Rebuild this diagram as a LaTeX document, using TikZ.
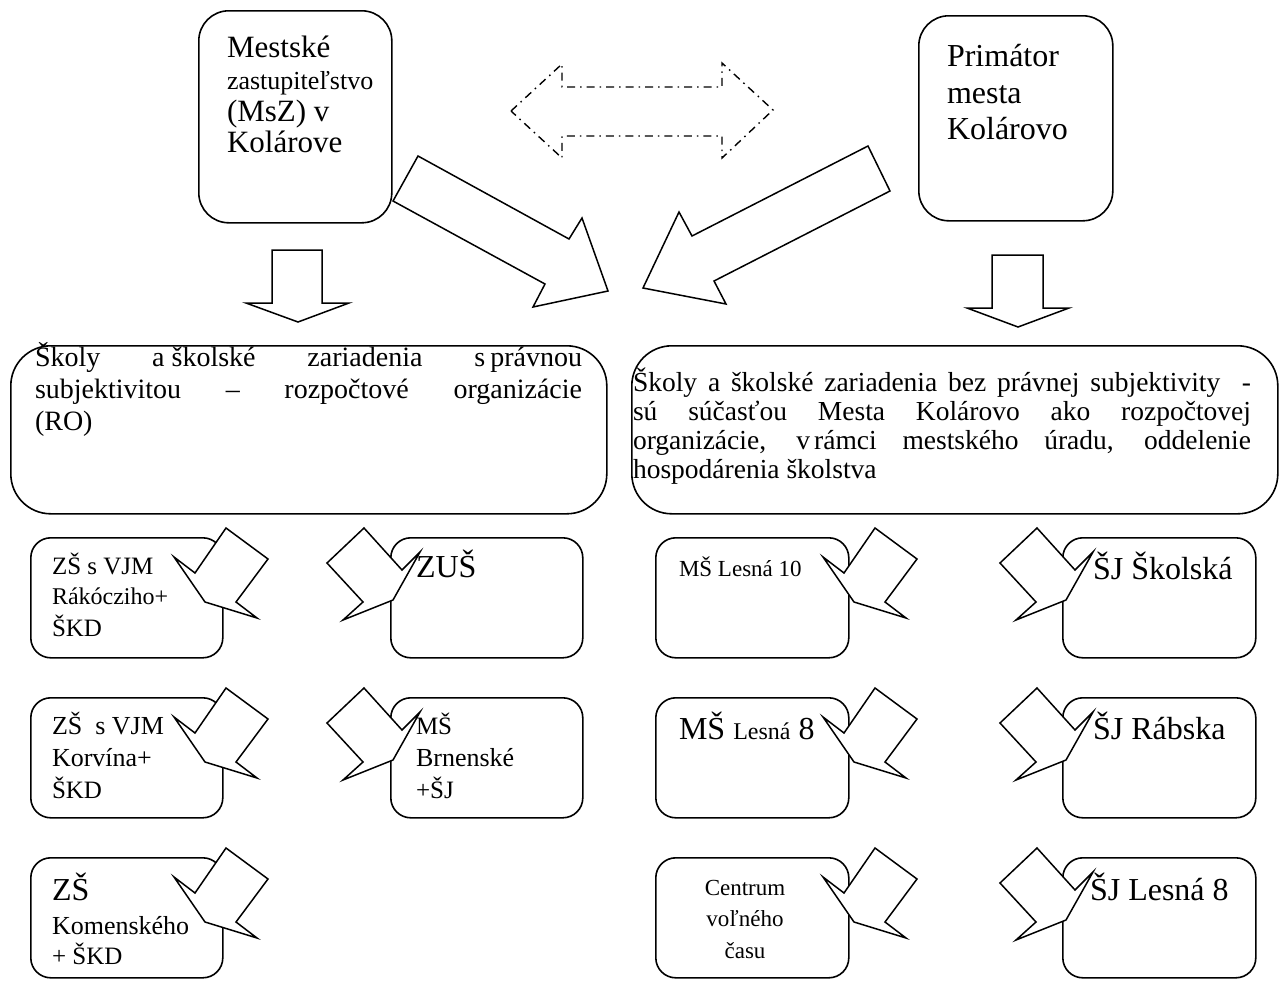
\documentclass[tikz,border=0pt]{standalone}
\usepackage{fontspec}
\setmainfont{Liberation Serif}
\newcommand\myfs[2]{\fontsize{#1}{#2}\selectfont}
\tikzset{
  box/.style={draw, line width=1.6pt, rounded corners=#1, anchor=north west, inner sep=0pt},
  blk/.style={draw, fill=white, line width=1.5pt, line join=miter},
  dsh/.style={draw, line width=1.4pt, dash pattern=on 8pt off 5pt on 1.5pt off 5pt},
  txt/.style={anchor=base west, inner sep=0pt, outer sep=0pt},
  arrA/.pic={\draw[blk] (0,0) -- (42,31) -- (10,74) -- (31,90) -- (-21,74) -- (-52,29) -- (-31,45) -- cycle;},
  arrB/.pic={\draw[blk] (0,0) -- (-37,35) -- (-1,74) -- (-21,92) -- (29,72) -- (56,24) -- (38,42) -- cycle;}
}
\begin{document}
\begin{tikzpicture}[x=1pt,y=-1pt]
\useasboundingbox[fill=white] (0,0) rectangle (1279,983);
% top boxes
\node[box=30pt, minimum width=193pt, minimum height=212pt] (msz) at (198,10) {};
\node[box=30pt, minimum width=194pt, minimum height=205pt] (prim) at (918,15) {};
% big boxes
\node[box=40pt, minimum width=596pt, minimum height=168pt] (ro) at (10,345) {};
\node[box=40pt, minimum width=646pt, minimum height=168pt] (bez) at (631,345) {};
% small boxes
\node[box=20pt, minimum width=192pt, minimum height=120pt] (b1) at (30,537) {};
\node[box=20pt, minimum width=192pt, minimum height=120pt] (b2) at (390,537) {};
\node[box=20pt, minimum width=192pt, minimum height=120pt] (b3) at (30,697) {};
\node[box=20pt, minimum width=192pt, minimum height=120pt] (b4) at (390,697) {};
\node[box=20pt, minimum width=192pt, minimum height=120pt] (b5) at (30,857) {};
\node[box=20pt, minimum width=193pt, minimum height=120pt] (b6) at (655,537) {};
\node[box=20pt, minimum width=193pt, minimum height=120pt] (b7) at (1062,537) {};
\node[box=20pt, minimum width=193pt, minimum height=120pt] (b8) at (655,697) {};
\node[box=20pt, minimum width=193pt, minimum height=120pt] (b9) at (1062,697) {};
\node[box=20pt, minimum width=193pt, minimum height=120pt] (b10) at (655,857) {};
\node[box=20pt, minimum width=193pt, minimum height=120pt] (b11) at (1062,857) {};
% dash-dot double arrow
\draw[dsh] (511,111) -- (562,64) -- (562,87) -- (722,87) -- (722,63) -- (773,110) -- (722,158) -- (722,136) -- (562,136) -- (562,158) -- cycle;
% big block arrows
\draw[blk] (418,156) -- (569,239) -- (582,218) -- (608,291) -- (533,307) -- (545,284) -- (393,201) -- cycle;
\draw[blk] (868,146) -- (692,236) -- (679,212) -- (643,288) -- (726,304) -- (714,281) -- (890,191) -- cycle;
% down arrows
\draw[blk] (272,250) -- (322,250) -- (322,303) -- (349,303) -- (298,322) -- (246,303) -- (272,303) -- cycle;
\draw[blk] (992,255) -- (1043,255) -- (1043,308) -- (1069,308) -- (1018,327) -- (967,308) -- (992,308) -- cycle;
% small arrows
\pic at (226,528) {arrA};
\pic at (226,688) {arrA};
\pic at (226,848) {arrA};
\pic at (875,528) {arrA};
\pic at (875,688) {arrA};
\pic at (875,848) {arrA};
\pic at (364,528) {arrB};
\pic at (364,688) {arrB};
\pic at (1037,528) {arrB};
\pic at (1037,688) {arrB};
\pic at (1037,848) {arrB};
% texts top boxes
\node[txt] (t1) at (227,57) {\myfs{31}{32}Mestské};
\node[txt] (t2) at (227,89) {\myfs{26}{32}zastupiteľstvo};
\node[txt] (t3) at (227,121) {\myfs{31}{32}(MsZ) v};
\node[txt] (t4) at (227,152) {\myfs{31}{32}Kolárove};
\node[txt] (t5) at (947,66) {\myfs{32}{36}Primátor};
\node[txt] (t6) at (947,103) {\myfs{32}{36}mesta};
\node[txt] (t7) at (947,139) {\myfs{32}{36}Kolárovo};
% big box texts
\node[txt] (r1) at (35,366) {\myfs{28}{32}\makebox[547pt][s]{Školy a\hspace{7pt}školské zariadenia s\hspace{5pt}právnou}};
\node[txt] (r2) at (35,398) {\myfs{28}{32}\makebox[547pt][s]{subjektivitou – rozpočtové organizácie}};
\node[txt] (r3) at (35,430) {\myfs{28}{32}(RO)};
\node[txt] (s1) at (633,391) {\myfs{27.5}{29}\makebox[618pt][s]{Školy a školské zariadenia bez právnej subjektivity \ -}};
\node[txt] (s2) at (633,420) {\myfs{27.5}{29}\makebox[618pt][s]{sú súčasťou Mesta Kolárovo ako rozpočtovej}};
\node[txt] (s3) at (633,449) {\myfs{27.5}{29}\makebox[618pt][s]{organizácie, v\hspace{4pt}rámci mestského úradu, oddelenie}};
\node[txt] (s4) at (633,478) {\myfs{27.5}{29}hospodárenia školstva};
% small box texts
\node[txt] (a1) at (52,574) {\myfs{25}{31}ZŠ s VJM};
\node[txt] (a2) at (52,604) {\myfs{24}{31}Rákócziho+};
\node[txt] (a3) at (52,636) {\myfs{25}{31}ŠKD};
\node[txt] (bb) at (416,577) {\myfs{32}{36}ZUŠ};
\node[txt] (c1) at (52,734) {\myfs{26}{31}ZŠ \ s VJM};
\node[txt] (c2) at (52,766) {\myfs{26}{31}Korvína+};
\node[txt] (c3) at (52,798) {\myfs{25}{31}ŠKD};
\node[txt] (d1) at (416,734) {\myfs{25}{31}MŠ};
\node[txt] (d2) at (416,766) {\myfs{26}{31}Brnenské};
\node[txt] (d3) at (416,798) {\myfs{25}{31}+ŠJ};
\node[txt] (e1) at (52,900) {\myfs{32}{36}ZŠ};
\node[txt] (e2) at (52,934) {\myfs{26}{31}Komenského};
\node[txt] (e3) at (52,964) {\myfs{25}{31}+ ŠKD};
\node[txt] (f1) at (679,576) {\myfs{23}{31}MŠ Lesná 10};
\node[txt] (g1) at (1093,579) {\myfs{32}{36}ŠJ Školská};
\node[txt] (h1) at (679,739) {\myfs{32}{36}MŠ {\myfs{24}{31}Lesná} 8};
\node[txt] (i1) at (1093,739) {\myfs{32}{36}ŠJ Rábska};
\node[anchor=base, inner sep=0pt] (j1) at (745,895) {\myfs{23}{31}Centrum};
\node[anchor=base, inner sep=0pt] (j2) at (745,926) {\myfs{23}{31}voľného};
\node[anchor=base, inner sep=0pt] (j3) at (745,958) {\myfs{23}{31}času};
\node[txt] (k1) at (1090,900) {\myfs{32}{36}ŠJ Lesná 8};
\end{tikzpicture}
\end{document}
